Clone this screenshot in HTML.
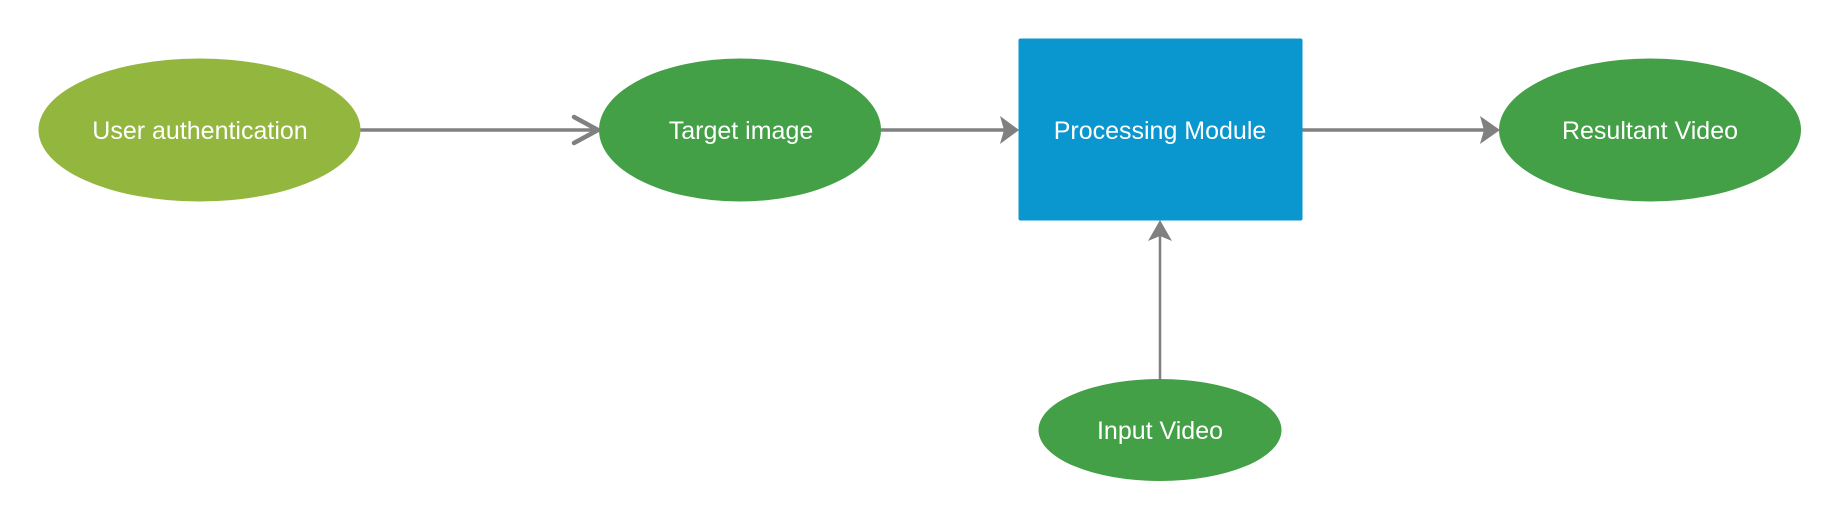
<!DOCTYPE html>
<html><head><style>
html,body{margin:0;padding:0;background:#fff;width:1840px;height:520px;overflow:hidden}
</style></head><body>
<svg width="1840" height="520" xmlns="http://www.w3.org/2000/svg" font-family="'Liberation Sans', sans-serif">
<g stroke="#808080" fill="none" stroke-linecap="round" stroke-linejoin="round">
<line x1="360" y1="130" x2="596" y2="130" stroke-width="3.5"/>
<polyline points="574,117 598,130 574,143" stroke-width="4.5"/>
<line x1="881" y1="130" x2="1016" y2="130" stroke-width="3.5"/>
<line x1="1302" y1="130" x2="1496" y2="130" stroke-width="3.5"/>
<line x1="1160" y1="379" x2="1160" y2="232" stroke-width="2.5"/>
</g>
<g fill="#808080">
<polygon points="1000,116 1019,130 1000,144 1004,130"/>
<polygon points="1480,116 1500,130 1480,144 1484,130"/>
<polygon points="1148,241 1160,220 1172,241 1160,236"/>
</g>
<ellipse cx="199.5" cy="130" rx="161" ry="71.5" fill="#93b73e"/>
<ellipse cx="740" cy="130" rx="141" ry="71.5" fill="#43a047"/>
<rect x="1018.5" y="38.5" width="284" height="182" rx="2" fill="#0a97cf"/>
<ellipse cx="1650" cy="130" rx="151" ry="71.5" fill="#43a047"/>
<ellipse cx="1160" cy="430" rx="121.5" ry="51" fill="#43a047"/>
<g fill="#fff" font-size="25" text-anchor="middle">
<text x="200" y="139">User authentication</text>
<text x="741" y="139">Target image</text>
<text x="1160" y="139">Processing Module</text>
<text x="1650" y="139">Resultant Video</text>
<text x="1160" y="439">Input Video</text>
</g>
</svg>
</body></html>
